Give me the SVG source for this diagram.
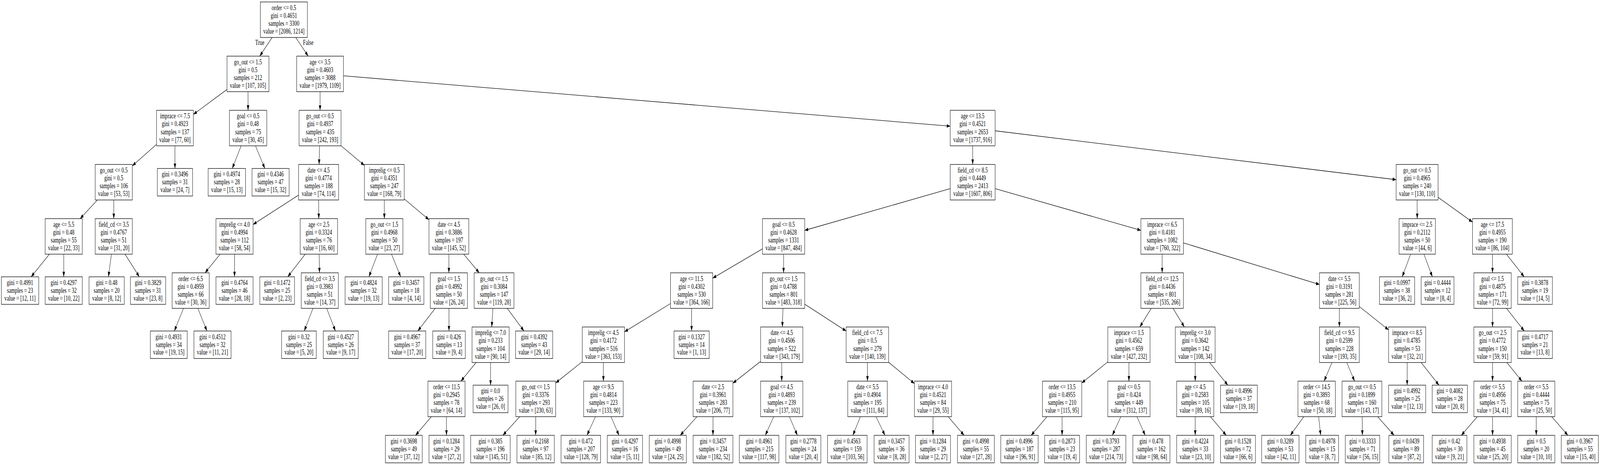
<svg xmlns="http://www.w3.org/2000/svg" width="5949" height="1191" viewBox="0 0 5949 1191" preserveAspectRatio="none">
<style>
:root{width:100vw;height:100vh}
.n rect{fill:#fff;stroke:#000;stroke-width:1.3}
text{font-family:"Liberation Serif","Times New Roman",serif;font-size:18.25px;text-anchor:middle;fill:#000}
.c line{stroke:#000;stroke-width:1.3;marker-end:url(#ah)}
</style>
<defs>
<marker id="ah" markerUnits="userSpaceOnUse" markerWidth="14" markerHeight="10" refX="13" refY="4.6" orient="auto"><path d="M0,0 L13,4.6 L0,9.2 z" fill="#000"/></marker>
</defs>
<rect width="5949" height="1191" fill="#fff"/>
<g id="connectors" class="c">
<line x1="1011.7" y1="96" x2="965.8" y2="143.75"/>
<line x1="1099.6" y1="96" x2="1145.9" y2="143.75"/>
<line x1="844" y1="229.1" x2="719" y2="293"/>
<line x1="922.2" y1="234.75" x2="922.3" y2="282.5"/>
<line x1="1190" y1="234.75" x2="1190" y2="282.5"/>
<line x1="1277" y1="194.2" x2="3533" y2="323.2"/>
<line x1="582" y1="369.8" x2="492" y2="424.7"/>
<line x1="650.5" y1="373.5" x2="650.5" y2="431.5"/>
<line x1="896.6" y1="373.5" x2="863.6" y2="431.5"/>
<line x1="949.9" y1="373.5" x2="984.8" y2="431.5"/>
<line x1="1188.2" y1="373.5" x2="1186.3" y2="421.25"/>
<line x1="1268" y1="373.3" x2="1355" y2="423.8"/>
<line x1="3616.5" y1="373.5" x2="3616.5" y2="421.25"/>
<line x1="3700" y1="335" x2="5191" y2="460.2"/>
<line x1="362" y1="512.25" x2="298" y2="560"/>
<line x1="423" y1="512.25" x2="423" y2="560"/>
<line x1="1110" y1="499.8" x2="941" y2="574.9"/>
<line x1="1184.8" y1="512.25" x2="1185.2" y2="560"/>
<line x1="1429" y1="512.25" x2="1429" y2="560"/>
<line x1="1503" y1="509.5" x2="1595" y2="562.7"/>
<line x1="3533" y1="483.2" x2="2992" y2="590"/>
<line x1="3700" y1="483.2" x2="4242" y2="589.9"/>
<line x1="5269" y1="512.25" x2="5269.5" y2="560"/>
<line x1="5347" y1="505.4" x2="5475" y2="568.8"/>
<line x1="183.7" y1="651" x2="115.8" y2="709"/>
<line x1="237" y1="651" x2="237" y2="709"/>
<line x1="414.3" y1="651" x2="403.2" y2="709"/>
<line x1="464.8" y1="651" x2="518.1" y2="709"/>
<line x1="818.5" y1="651" x2="762.5" y2="698.75"/>
<line x1="872" y1="651" x2="872" y2="709"/>
<line x1="1134.7" y1="651" x2="1069.9" y2="709"/>
<line x1="1186.6" y1="651" x2="1187.9" y2="698.75"/>
<line x1="1403.7" y1="651" x2="1371.6" y2="709"/>
<line x1="1455.7" y1="651" x2="1489.8" y2="709"/>
<line x1="1669" y1="651" x2="1669" y2="698.75"/>
<line x1="1724.1" y1="651" x2="1781.9" y2="698.75"/>
<line x1="2835" y1="637.3" x2="2650" y2="712.4"/>
<line x1="2913.5" y1="651" x2="2913.5" y2="698.75"/>
<line x1="4321" y1="651" x2="4321" y2="698.75"/>
<line x1="4400" y1="622.1" x2="4906" y2="728.7"/>
<line x1="5244.9" y1="651" x2="5213.6" y2="709"/>
<line x1="5294.3" y1="651" x2="5325.8" y2="709"/>
<line x1="5549.2" y1="651" x2="5549.4" y2="698.75"/>
<line x1="5601" y1="651" x2="5667.2" y2="709"/>
<line x1="682.3" y1="789.75" x2="648.2" y2="847.75"/>
<line x1="735.6" y1="789.75" x2="769.4" y2="847.75"/>
<line x1="1163.6" y1="789.75" x2="1131.2" y2="847.75"/>
<line x1="1214.6" y1="789.75" x2="1247.2" y2="847.75"/>
<line x1="1618.2" y1="789.75" x2="1553.4" y2="847.75"/>
<line x1="1669.2" y1="789.75" x2="1669.4" y2="847.75"/>
<line x1="1832.7" y1="789.75" x2="1828.3" y2="837.5"/>
<line x1="1885.9" y1="789.75" x2="1948.1" y2="847.75"/>
<line x1="2493" y1="777.5" x2="2322" y2="849.8"/>
<line x1="2571.5" y1="789.75" x2="2571.5" y2="847.75"/>
<line x1="2911.2" y1="789.75" x2="2908.8" y2="837.5"/>
<line x1="2992" y1="779.2" x2="3146" y2="847.8"/>
<line x1="4280.5" y1="789.75" x2="4238" y2="837.5"/>
<line x1="4361.3" y1="789.75" x2="4403.7" y2="837.5"/>
<line x1="4980" y1="789.75" x2="4980" y2="837.5"/>
<line x1="5054" y1="785" x2="5163" y2="845"/>
<line x1="5549.5" y1="789.75" x2="5549.5" y2="837.5"/>
<line x1="5601.3" y1="789.75" x2="5667.4" y2="847.75"/>
<line x1="1770.2" y1="928.5" x2="1713.8" y2="976.25"/>
<line x1="1824" y1="928.5" x2="1824" y2="986.5"/>
<line x1="2165" y1="926.3" x2="2066" y2="980.9"/>
<line x1="2243.5" y1="928.5" x2="2243.5" y2="976.25"/>
<line x1="2828" y1="925.6" x2="2725" y2="981.6"/>
<line x1="2906.5" y1="928.5" x2="2906.5" y2="976.25"/>
<line x1="3225.2" y1="928.5" x2="3225.3" y2="976.25"/>
<line x1="3304" y1="927.9" x2="3400" y2="982.5"/>
<line x1="4119" y1="926.8" x2="4022" y2="981"/>
<line x1="4197.5" y1="928.5" x2="4197.5" y2="976.25"/>
<line x1="4444" y1="928.5" x2="4444" y2="976.25"/>
<line x1="4497.3" y1="928.5" x2="4565.2" y2="986.5"/>
<line x1="4952.3" y1="928.5" x2="4923.2" y2="976.25"/>
<line x1="5007.5" y1="928.5" x2="5036.5" y2="976.25"/>
<line x1="5232" y1="928.5" x2="5232" y2="986.5"/>
<line x1="5284" y1="928.5" x2="5350.2" y2="986.5"/>
<line x1="5549.5" y1="928.5" x2="5549.5" y2="976.25"/>
<line x1="5602.8" y1="928.5" x2="5658.7" y2="976.25"/>
<line x1="1603.9" y1="1067.25" x2="1545" y2="1115"/>
<line x1="1660" y1="1067.25" x2="1660" y2="1115"/>
<line x1="1932.3" y1="1067.25" x2="1869.7" y2="1115"/>
<line x1="1992" y1="1067.25" x2="1991.6" y2="1115"/>
<line x1="2213.8" y1="1067.25" x2="2182.5" y2="1115"/>
<line x1="2271.8" y1="1067.25" x2="2301.6" y2="1115"/>
<line x1="2591.5" y1="1067.25" x2="2529.1" y2="1115"/>
<line x1="2651" y1="1067.25" x2="2651" y2="1115"/>
<line x1="2876.8" y1="1067.25" x2="2845.5" y2="1115"/>
<line x1="2935" y1="1067.25" x2="2964.9" y2="1115"/>
<line x1="3199" y1="1067.25" x2="3171.1" y2="1115"/>
<line x1="3257.2" y1="1067.25" x2="3290.4" y2="1115"/>
<line x1="3469" y1="1067.25" x2="3469" y2="1115"/>
<line x1="3525.5" y1="1067.25" x2="3584.7" y2="1115"/>
<line x1="3892.9" y1="1067.25" x2="3834" y2="1115"/>
<line x1="3949" y1="1067.25" x2="3949" y2="1115"/>
<line x1="4167.4" y1="1067.25" x2="4135.8" y2="1115"/>
<line x1="4227.1" y1="1067.25" x2="4258.1" y2="1115"/>
<line x1="4444" y1="1067.25" x2="4444" y2="1115"/>
<line x1="4500.3" y1="1067.25" x2="4559.4" y2="1115"/>
<line x1="4847.7" y1="1067.25" x2="4797.5" y2="1115"/>
<line x1="4902.8" y1="1067.25" x2="4910.4" y2="1115"/>
<line x1="5064.7" y1="1067.25" x2="5065.5" y2="1115"/>
<line x1="5122.2" y1="1067.25" x2="5183.4" y2="1115"/>
<line x1="5492.8" y1="1067.25" x2="5433.4" y2="1115"/>
<line x1="5549.5" y1="1067.25" x2="5549.5" y2="1115"/>
<line x1="5712" y1="1067.25" x2="5712" y2="1115"/>
<line x1="5769.4" y1="1067.25" x2="5829.6" y2="1115"/>
<text x="966" y="115.3">True</text>
<text x="1146" y="115.3">False</text>
</g>
<g id="nodes">
<g id="n0" class="n" transform="translate(1055.5 50.5)"><rect x="-87.5" y="-45.5" width="175" height="91"/><text y="-24.7">order &lt;= 0.5</text><text y="-4.6">gini = 0.4651</text><text y="15.6">samples = 3300</text><text y="35.7">value = [2086, 1214]</text></g>
<g id="n1" class="n" transform="translate(922 189.25)"><rect x="-78" y="-45.5" width="156" height="91"/><text y="-24.7">go_out &lt;= 1.5</text><text y="-4.6">gini = 0.5</text><text y="15.6">samples = 212</text><text y="35.7">value = [107, 105]</text></g>
<g id="n2" class="n" transform="translate(1190 189.25)"><rect x="-87" y="-45.5" width="174" height="91"/><text y="-24.7">age &lt;= 3.5</text><text y="-4.6">gini = 0.4603</text><text y="15.6">samples = 3088</text><text y="35.7">value = [1979, 1109]</text></g>
<g id="n3" class="n" transform="translate(650.5 328)"><rect x="-68.5" y="-45.5" width="137" height="91"/><text y="-24.7">imprace &lt;= 7.5</text><text y="-4.6">gini = 0.4923</text><text y="15.6">samples = 137</text><text y="35.7">value = [77, 60]</text></g>
<g id="n4" class="n" transform="translate(922.5 328)"><rect x="-69.5" y="-45.5" width="139" height="91"/><text y="-24.7">goal &lt;= 0.5</text><text y="-4.6">gini = 0.48</text><text y="15.6">samples = 75</text><text y="35.7">value = [30, 45]</text></g>
<g id="n5" class="n" transform="translate(1190 328)"><rect x="-78" y="-45.5" width="156" height="91"/><text y="-24.7">go_out &lt;= 0.5</text><text y="-4.6">gini = 0.4937</text><text y="15.6">samples = 435</text><text y="35.7">value = [242, 193]</text></g>
<g id="n6" class="n" transform="translate(3616.5 328)"><rect x="-83.5" y="-45.5" width="167" height="91"/><text y="-24.7">age &lt;= 13.5</text><text y="-4.6">gini = 0.4521</text><text y="15.6">samples = 2653</text><text y="35.7">value = [1737, 916]</text></g>
<g id="n7" class="n" transform="translate(423 466.75)"><rect x="-69" y="-45.5" width="138" height="91"/><text y="-24.7">go_out &lt;= 0.5</text><text y="-4.6">gini = 0.5</text><text y="15.6">samples = 106</text><text y="35.7">value = [53, 53]</text></g>
<g id="n8" class="n" transform="translate(650.5 466.75)"><rect x="-65.5" y="-35.25" width="131" height="70.5"/><text y="-14.5">gini = 0.3496</text><text y="5.5">samples = 31</text><text y="25.5">value = [24, 7]</text></g>
<g id="n9" class="n" transform="translate(843.5 466.75)"><rect x="-69.5" y="-35.25" width="139" height="70.5"/><text y="-14.5">gini = 0.4974</text><text y="5.5">samples = 28</text><text y="25.5">value = [15, 13]</text></g>
<g id="n10" class="n" transform="translate(1006 466.75)"><rect x="-69" y="-35.25" width="138" height="70.5"/><text y="-14.5">gini = 0.4346</text><text y="5.5">samples = 47</text><text y="25.5">value = [15, 32]</text></g>
<g id="n11" class="n" transform="translate(1184.5 466.75)"><rect x="-74.5" y="-45.5" width="149" height="91"/><text y="-24.7">date &lt;= 4.5</text><text y="-4.6">gini = 0.4774</text><text y="15.6">samples = 188</text><text y="35.7">value = [74, 114]</text></g>
<g id="n12" class="n" transform="translate(1429 466.75)"><rect x="-74" y="-45.5" width="148" height="91"/><text y="-24.7">imprelig &lt;= 0.5</text><text y="-4.6">gini = 0.4351</text><text y="15.6">samples = 247</text><text y="35.7">value = [168, 79]</text></g>
<g id="n13" class="n" transform="translate(3616.5 466.75)"><rect x="-83.5" y="-45.5" width="167" height="91"/><text y="-24.7">field_cd &lt;= 8.5</text><text y="-4.6">gini = 0.4449</text><text y="15.6">samples = 2413</text><text y="35.7">value = [1607, 806]</text></g>
<g id="n14" class="n" transform="translate(5269 466.75)"><rect x="-78" y="-45.5" width="156" height="91"/><text y="-24.7">go_out &lt;= 0.5</text><text y="-4.6">gini = 0.4965</text><text y="15.6">samples = 240</text><text y="35.7">value = [130, 110]</text></g>
<g id="n15" class="n" transform="translate(237 605.5)"><rect x="-69" y="-45.5" width="138" height="91"/><text y="-24.7">age &lt;= 5.5</text><text y="-4.6">gini = 0.48</text><text y="15.6">samples = 55</text><text y="35.7">value = [22, 33]</text></g>
<g id="n16" class="n" transform="translate(423 605.5)"><rect x="-69" y="-45.5" width="138" height="91"/><text y="-24.7">field_cd &lt;= 3.5</text><text y="-4.6">gini = 0.4767</text><text y="15.6">samples = 51</text><text y="35.7">value = [31, 20]</text></g>
<g id="n17" class="n" transform="translate(872 605.5)"><rect x="-69" y="-45.5" width="138" height="91"/><text y="-24.7">imprelig &lt;= 4.0</text><text y="-4.6">gini = 0.4994</text><text y="15.6">samples = 112</text><text y="35.7">value = [58, 54]</text></g>
<g id="n18" class="n" transform="translate(1185.5 605.5)"><rect x="-69.5" y="-45.5" width="139" height="91"/><text y="-24.7">age &lt;= 2.5</text><text y="-4.6">gini = 0.3324</text><text y="15.6">samples = 76</text><text y="35.7">value = [16, 60]</text></g>
<g id="n19" class="n" transform="translate(1429 605.5)"><rect x="-69" y="-45.5" width="138" height="91"/><text y="-24.7">go_out &lt;= 1.5</text><text y="-4.6">gini = 0.4968</text><text y="15.6">samples = 50</text><text y="35.7">value = [23, 27]</text></g>
<g id="n20" class="n" transform="translate(1669 605.5)"><rect x="-74" y="-45.5" width="148" height="91"/><text y="-24.7">date &lt;= 4.5</text><text y="-4.6">gini = 0.3886</text><text y="15.6">samples = 197</text><text y="35.7">value = [145, 52]</text></g>
<g id="n21" class="n" transform="translate(2913.5 605.5)"><rect x="-78.5" y="-45.5" width="157" height="91"/><text y="-24.7">goal &lt;= 0.5</text><text y="-4.6">gini = 0.4628</text><text y="15.6">samples = 1331</text><text y="35.7">value = [847, 484]</text></g>
<g id="n22" class="n" transform="translate(4321 605.5)"><rect x="-79" y="-45.5" width="158" height="91"/><text y="-24.7">imprace &lt;= 6.5</text><text y="-4.6">gini = 0.4181</text><text y="15.6">samples = 1082</text><text y="35.7">value = [760, 322]</text></g>
<g id="n23" class="n" transform="translate(5269.5 605.5)"><rect x="-67.5" y="-45.5" width="135" height="91"/><text y="-24.7">imprace &lt;= 2.5</text><text y="-4.6">gini = 0.2112</text><text y="15.6">samples = 50</text><text y="35.7">value = [44, 6]</text></g>
<g id="n24" class="n" transform="translate(5549 605.5)"><rect x="-74" y="-45.5" width="148" height="91"/><text y="-24.7">age &lt;= 17.5</text><text y="-4.6">gini = 0.4955</text><text y="15.6">samples = 190</text><text y="35.7">value = [86, 104]</text></g>
<g id="n25" class="n" transform="translate(74.5 744.25)"><rect x="-69.5" y="-35.25" width="139" height="70.5"/><text y="-14.5">gini = 0.4991</text><text y="5.5">samples = 23</text><text y="25.5">value = [12, 11]</text></g>
<g id="n26" class="n" transform="translate(237 744.25)"><rect x="-69" y="-35.25" width="138" height="70.5"/><text y="-14.5">gini = 0.4297</text><text y="5.5">samples = 32</text><text y="25.5">value = [10, 22]</text></g>
<g id="n27" class="n" transform="translate(396.5 744.25)"><rect x="-65.5" y="-35.25" width="131" height="70.5"/><text y="-14.5">gini = 0.48</text><text y="5.5">samples = 20</text><text y="25.5">value = [8, 12]</text></g>
<g id="n28" class="n" transform="translate(550.5 744.25)"><rect x="-65.5" y="-35.25" width="131" height="70.5"/><text y="-14.5">gini = 0.3829</text><text y="5.5">samples = 31</text><text y="25.5">value = [23, 8]</text></g>
<g id="n29" class="n" transform="translate(709 744.25)"><rect x="-69" y="-45.5" width="138" height="91"/><text y="-24.7">order &lt;= 6.5</text><text y="-4.6">gini = 0.4959</text><text y="15.6">samples = 66</text><text y="35.7">value = [30, 36]</text></g>
<g id="n30" class="n" transform="translate(872 744.25)"><rect x="-69" y="-35.25" width="138" height="70.5"/><text y="-14.5">gini = 0.4764</text><text y="5.5">samples = 46</text><text y="25.5">value = [28, 18]</text></g>
<g id="n31" class="n" transform="translate(1030.5 744.25)"><rect x="-64.5" y="-35.25" width="129" height="70.5"/><text y="-14.5">gini = 0.1472</text><text y="5.5">samples = 25</text><text y="25.5">value = [2, 23]</text></g>
<g id="n32" class="n" transform="translate(1189 744.25)"><rect x="-69" y="-45.5" width="138" height="91"/><text y="-24.7">field_cd &lt;= 3.5</text><text y="-4.6">gini = 0.3983</text><text y="15.6">samples = 51</text><text y="35.7">value = [14, 37]</text></g>
<g id="n33" class="n" transform="translate(1352 744.25)"><rect x="-69" y="-35.25" width="138" height="70.5"/><text y="-14.5">gini = 0.4824</text><text y="5.5">samples = 32</text><text y="25.5">value = [19, 13]</text></g>
<g id="n34" class="n" transform="translate(1510.5 744.25)"><rect x="-65.5" y="-35.25" width="131" height="70.5"/><text y="-14.5">gini = 0.3457</text><text y="5.5">samples = 18</text><text y="25.5">value = [4, 14]</text></g>
<g id="n35" class="n" transform="translate(1669 744.25)"><rect x="-69" y="-45.5" width="138" height="91"/><text y="-24.7">goal &lt;= 1.5</text><text y="-4.6">gini = 0.4992</text><text y="15.6">samples = 50</text><text y="35.7">value = [26, 24]</text></g>
<g id="n36" class="n" transform="translate(1837 744.25)"><rect x="-74" y="-45.5" width="148" height="91"/><text y="-24.7">go_out &lt;= 1.5</text><text y="-4.6">gini = 0.3084</text><text y="15.6">samples = 147</text><text y="35.7">value = [119, 28]</text></g>
<g id="n37" class="n" transform="translate(2571.5 744.25)"><rect x="-78.5" y="-45.5" width="157" height="91"/><text y="-24.7">age &lt;= 11.5</text><text y="-4.6">gini = 0.4302</text><text y="15.6">samples = 530</text><text y="35.7">value = [364, 166]</text></g>
<g id="n38" class="n" transform="translate(2913.5 744.25)"><rect x="-78.5" y="-45.5" width="157" height="91"/><text y="-24.7">go_out &lt;= 1.5</text><text y="-4.6">gini = 0.4788</text><text y="15.6">samples = 801</text><text y="35.7">value = [483, 318]</text></g>
<g id="n39" class="n" transform="translate(4321 744.25)"><rect x="-79" y="-45.5" width="158" height="91"/><text y="-24.7">field_cd &lt;= 12.5</text><text y="-4.6">gini = 0.4436</text><text y="15.6">samples = 801</text><text y="35.7">value = [535, 266]</text></g>
<g id="n40" class="n" transform="translate(4980 744.25)"><rect x="-74" y="-45.5" width="148" height="91"/><text y="-24.7">date &lt;= 5.5</text><text y="-4.6">gini = 0.3191</text><text y="15.6">samples = 281</text><text y="35.7">value = [225, 56]</text></g>
<g id="n41" class="n" transform="translate(5194.5 744.25)"><rect x="-65.5" y="-35.25" width="131" height="70.5"/><text y="-14.5">gini = 0.0997</text><text y="5.5">samples = 38</text><text y="25.5">value = [36, 2]</text></g>
<g id="n42" class="n" transform="translate(5345 744.25)"><rect x="-61" y="-35.25" width="122" height="70.5"/><text y="-14.5">gini = 0.4444</text><text y="5.5">samples = 12</text><text y="25.5">value = [8, 4]</text></g>
<g id="n43" class="n" transform="translate(5549.5 744.25)"><rect x="-69.5" y="-45.5" width="139" height="91"/><text y="-24.7">goal &lt;= 1.5</text><text y="-4.6">gini = 0.4875</text><text y="15.6">samples = 171</text><text y="35.7">value = [72, 99]</text></g>
<g id="n44" class="n" transform="translate(5707.5 744.25)"><rect x="-64.5" y="-35.25" width="129" height="70.5"/><text y="-14.5">gini = 0.3878</text><text y="5.5">samples = 19</text><text y="25.5">value = [14, 5]</text></g>
<g id="n45" class="n" transform="translate(627.5 883)"><rect x="-68.5" y="-35.25" width="137" height="70.5"/><text y="-14.5">gini = 0.4931</text><text y="5.5">samples = 34</text><text y="25.5">value = [19, 15]</text></g>
<g id="n46" class="n" transform="translate(790 883)"><rect x="-69" y="-35.25" width="138" height="70.5"/><text y="-14.5">gini = 0.4512</text><text y="5.5">samples = 32</text><text y="25.5">value = [11, 21]</text></g>
<g id="n47" class="n" transform="translate(1111.5 883)"><rect x="-64.5" y="-35.25" width="129" height="70.5"/><text y="-14.5">gini = 0.32</text><text y="5.5">samples = 25</text><text y="25.5">value = [5, 20]</text></g>
<g id="n48" class="n" transform="translate(1267 883)"><rect x="-65" y="-35.25" width="130" height="70.5"/><text y="-14.5">gini = 0.4527</text><text y="5.5">samples = 26</text><text y="25.5">value = [9, 17]</text></g>
<g id="n49" class="n" transform="translate(1514 883)"><rect x="-69" y="-35.25" width="138" height="70.5"/><text y="-14.5">gini = 0.4967</text><text y="5.5">samples = 37</text><text y="25.5">value = [17, 20]</text></g>
<g id="n50" class="n" transform="translate(1669.5 883)"><rect x="-60.5" y="-35.25" width="121" height="70.5"/><text y="-14.5">gini = 0.426</text><text y="5.5">samples = 13</text><text y="25.5">value = [9, 4]</text></g>
<g id="n51" class="n" transform="translate(1824 883)"><rect x="-69" y="-45.5" width="138" height="91"/><text y="-24.7">imprelig &lt;= 7.0</text><text y="-4.6">gini = 0.233</text><text y="15.6">samples = 104</text><text y="35.7">value = [90, 14]</text></g>
<g id="n52" class="n" transform="translate(1986 883)"><rect x="-69" y="-35.25" width="138" height="70.5"/><text y="-14.5">gini = 0.4392</text><text y="5.5">samples = 43</text><text y="25.5">value = [29, 14]</text></g>
<g id="n53" class="n" transform="translate(2243.5 883)"><rect x="-78.5" y="-45.5" width="157" height="91"/><text y="-24.7">imprelig &lt;= 4.5</text><text y="-4.6">gini = 0.4172</text><text y="15.6">samples = 516</text><text y="35.7">value = [363, 153]</text></g>
<g id="n54" class="n" transform="translate(2571.5 883)"><rect x="-65.5" y="-35.25" width="131" height="70.5"/><text y="-14.5">gini = 0.1327</text><text y="5.5">samples = 14</text><text y="25.5">value = [1, 13]</text></g>
<g id="n55" class="n" transform="translate(2906.5 883)"><rect x="-78.5" y="-45.5" width="157" height="91"/><text y="-24.7">date &lt;= 4.5</text><text y="-4.6">gini = 0.4506</text><text y="15.6">samples = 522</text><text y="35.7">value = [343, 179]</text></g>
<g id="n56" class="n" transform="translate(3225 883)"><rect x="-79" y="-45.5" width="158" height="91"/><text y="-24.7">field_cd &lt;= 7.5</text><text y="-4.6">gini = 0.5</text><text y="15.6">samples = 279</text><text y="35.7">value = [140, 139]</text></g>
<g id="n57" class="n" transform="translate(4197.5 883)"><rect x="-78.5" y="-45.5" width="157" height="91"/><text y="-24.7">imprace &lt;= 1.5</text><text y="-4.6">gini = 0.4562</text><text y="15.6">samples = 659</text><text y="35.7">value = [427, 232]</text></g>
<g id="n58" class="n" transform="translate(4444 883)"><rect x="-74" y="-45.5" width="148" height="91"/><text y="-24.7">imprelig &lt;= 3.0</text><text y="-4.6">gini = 0.3642</text><text y="15.6">samples = 142</text><text y="35.7">value = [108, 34]</text></g>
<g id="n59" class="n" transform="translate(4980 883)"><rect x="-74" y="-45.5" width="148" height="91"/><text y="-24.7">field_cd &lt;= 9.5</text><text y="-4.6">gini = 0.2599</text><text y="15.6">samples = 228</text><text y="35.7">value = [193, 35]</text></g>
<g id="n60" class="n" transform="translate(5232 883)"><rect x="-69" y="-45.5" width="138" height="91"/><text y="-24.7">imprace &lt;= 8.5</text><text y="-4.6">gini = 0.4785</text><text y="15.6">samples = 53</text><text y="35.7">value = [32, 21]</text></g>
<g id="n61" class="n" transform="translate(5549.5 883)"><rect x="-69.5" y="-45.5" width="139" height="91"/><text y="-24.7">go_out &lt;= 2.5</text><text y="-4.6">gini = 0.4772</text><text y="15.6">samples = 150</text><text y="35.7">value = [59, 91]</text></g>
<g id="n62" class="n" transform="translate(5707.5 883)"><rect x="-64.5" y="-35.25" width="129" height="70.5"/><text y="-14.5">gini = 0.4717</text><text y="5.5">samples = 21</text><text y="25.5">value = [13, 8]</text></g>
<g id="n63" class="n" transform="translate(1660 1021.75)"><rect x="-69" y="-45.5" width="138" height="91"/><text y="-24.7">order &lt;= 11.5</text><text y="-4.6">gini = 0.2945</text><text y="15.6">samples = 78</text><text y="35.7">value = [64, 14]</text></g>
<g id="n64" class="n" transform="translate(1824 1021.75)"><rect x="-65" y="-35.25" width="130" height="70.5"/><text y="-14.5">gini = 0.0</text><text y="5.5">samples = 26</text><text y="25.5">value = [26, 0]</text></g>
<g id="n65" class="n" transform="translate(1992 1021.75)"><rect x="-74" y="-45.5" width="148" height="91"/><text y="-24.7">go_out &lt;= 1.5</text><text y="-4.6">gini = 0.3376</text><text y="15.6">samples = 293</text><text y="35.7">value = [230, 63]</text></g>
<g id="n66" class="n" transform="translate(2243.5 1021.75)"><rect x="-73.5" y="-45.5" width="147" height="91"/><text y="-24.7">age &lt;= 9.5</text><text y="-4.6">gini = 0.4814</text><text y="15.6">samples = 223</text><text y="35.7">value = [133, 90]</text></g>
<g id="n67" class="n" transform="translate(2651 1021.75)"><rect x="-74" y="-45.5" width="148" height="91"/><text y="-24.7">date &lt;= 2.5</text><text y="-4.6">gini = 0.3961</text><text y="15.6">samples = 283</text><text y="35.7">value = [206, 77]</text></g>
<g id="n68" class="n" transform="translate(2906.5 1021.75)"><rect x="-78.5" y="-45.5" width="157" height="91"/><text y="-24.7">goal &lt;= 4.5</text><text y="-4.6">gini = 0.4893</text><text y="15.6">samples = 239</text><text y="35.7">value = [137, 102]</text></g>
<g id="n69" class="n" transform="translate(3225.5 1021.75)"><rect x="-73.5" y="-45.5" width="147" height="91"/><text y="-24.7">date &lt;= 5.5</text><text y="-4.6">gini = 0.4904</text><text y="15.6">samples = 195</text><text y="35.7">value = [111, 84]</text></g>
<g id="n70" class="n" transform="translate(3469 1021.75)"><rect x="-69" y="-45.5" width="138" height="91"/><text y="-24.7">imprace &lt;= 4.0</text><text y="-4.6">gini = 0.4521</text><text y="15.6">samples = 84</text><text y="35.7">value = [29, 55]</text></g>
<g id="n71" class="n" transform="translate(3949 1021.75)"><rect x="-73" y="-45.5" width="146" height="91"/><text y="-24.7">order &lt;= 13.5</text><text y="-4.6">gini = 0.4955</text><text y="15.6">samples = 210</text><text y="35.7">value = [115, 95]</text></g>
<g id="n72" class="n" transform="translate(4197.5 1021.75)"><rect x="-78.5" y="-45.5" width="157" height="91"/><text y="-24.7">goal &lt;= 0.5</text><text y="-4.6">gini = 0.424</text><text y="15.6">samples = 449</text><text y="35.7">value = [312, 137]</text></g>
<g id="n73" class="n" transform="translate(4444 1021.75)"><rect x="-69" y="-45.5" width="138" height="91"/><text y="-24.7">age &lt;= 4.5</text><text y="-4.6">gini = 0.2583</text><text y="15.6">samples = 105</text><text y="35.7">value = [89, 16]</text></g>
<g id="n74" class="n" transform="translate(4606.5 1021.75)"><rect x="-68.5" y="-35.25" width="137" height="70.5"/><text y="-14.5">gini = 0.4996</text><text y="5.5">samples = 37</text><text y="25.5">value = [19, 18]</text></g>
<g id="n75" class="n" transform="translate(4895.5 1021.75)"><rect x="-69.5" y="-45.5" width="139" height="91"/><text y="-24.7">order &lt;= 14.5</text><text y="-4.6">gini = 0.3893</text><text y="15.6">samples = 68</text><text y="35.7">value = [50, 18]</text></g>
<g id="n76" class="n" transform="translate(5064 1021.75)"><rect x="-74" y="-45.5" width="148" height="91"/><text y="-24.7">go_out &lt;= 0.5</text><text y="-4.6">gini = 0.1899</text><text y="15.6">samples = 160</text><text y="35.7">value = [143, 17]</text></g>
<g id="n77" class="n" transform="translate(5232 1021.75)"><rect x="-69" y="-35.25" width="138" height="70.5"/><text y="-14.5">gini = 0.4992</text><text y="5.5">samples = 25</text><text y="25.5">value = [12, 13]</text></g>
<g id="n78" class="n" transform="translate(5390.5 1021.75)"><rect x="-65.5" y="-35.25" width="131" height="70.5"/><text y="-14.5">gini = 0.4082</text><text y="5.5">samples = 28</text><text y="25.5">value = [20, 8]</text></g>
<g id="n79" class="n" transform="translate(5549.5 1021.75)"><rect x="-69.5" y="-45.5" width="139" height="91"/><text y="-24.7">order &lt;= 5.5</text><text y="-4.6">gini = 0.4956</text><text y="15.6">samples = 75</text><text y="35.7">value = [34, 41]</text></g>
<g id="n80" class="n" transform="translate(5712 1021.75)"><rect x="-69" y="-45.5" width="138" height="91"/><text y="-24.7">order &lt;= 5.5</text><text y="-4.6">gini = 0.4444</text><text y="15.6">samples = 75</text><text y="35.7">value = [25, 50]</text></g>
<g id="n81" class="n" transform="translate(1501.5 1150.25)"><rect x="-68.5" y="-35.25" width="137" height="70.5"/><text y="-14.5">gini = 0.3698</text><text y="5.5">samples = 49</text><text y="25.5">value = [37, 12]</text></g>
<g id="n82" class="n" transform="translate(1660 1150.25)"><rect x="-65" y="-35.25" width="130" height="70.5"/><text y="-14.5">gini = 0.1284</text><text y="5.5">samples = 29</text><text y="25.5">value = [27, 2]</text></g>
<g id="n83" class="n" transform="translate(1823.5 1150.25)"><rect x="-73.5" y="-35.25" width="147" height="70.5"/><text y="-14.5">gini = 0.385</text><text y="5.5">samples = 196</text><text y="25.5">value = [145, 51]</text></g>
<g id="n84" class="n" transform="translate(1991.5 1150.25)"><rect x="-69.5" y="-35.25" width="139" height="70.5"/><text y="-14.5">gini = 0.2168</text><text y="5.5">samples = 97</text><text y="25.5">value = [85, 12]</text></g>
<g id="n85" class="n" transform="translate(2159.5 1150.25)"><rect x="-73.5" y="-35.25" width="147" height="70.5"/><text y="-14.5">gini = 0.472</text><text y="5.5">samples = 207</text><text y="25.5">value = [128, 79]</text></g>
<g id="n86" class="n" transform="translate(2323.5 1150.25)"><rect x="-65.5" y="-35.25" width="131" height="70.5"/><text y="-14.5">gini = 0.4297</text><text y="5.5">samples = 16</text><text y="25.5">value = [5, 11]</text></g>
<g id="n87" class="n" transform="translate(2483 1150.25)"><rect x="-69" y="-35.25" width="138" height="70.5"/><text y="-14.5">gini = 0.4998</text><text y="5.5">samples = 49</text><text y="25.5">value = [24, 25]</text></g>
<g id="n88" class="n" transform="translate(2651 1150.25)"><rect x="-74" y="-35.25" width="148" height="70.5"/><text y="-14.5">gini = 0.3457</text><text y="5.5">samples = 234</text><text y="25.5">value = [182, 52]</text></g>
<g id="n89" class="n" transform="translate(2822.5 1150.25)"><rect x="-73.5" y="-35.25" width="147" height="70.5"/><text y="-14.5">gini = 0.4961</text><text y="5.5">samples = 215</text><text y="25.5">value = [117, 98]</text></g>
<g id="n90" class="n" transform="translate(2987 1150.25)"><rect x="-65" y="-35.25" width="130" height="70.5"/><text y="-14.5">gini = 0.2778</text><text y="5.5">samples = 24</text><text y="25.5">value = [20, 4]</text></g>
<g id="n91" class="n" transform="translate(3150.5 1150.25)"><rect x="-73.5" y="-35.25" width="147" height="70.5"/><text y="-14.5">gini = 0.4563</text><text y="5.5">samples = 159</text><text y="25.5">value = [103, 56]</text></g>
<g id="n92" class="n" transform="translate(3315 1150.25)"><rect x="-65" y="-35.25" width="130" height="70.5"/><text y="-14.5">gini = 0.3457</text><text y="5.5">samples = 36</text><text y="25.5">value = [8, 28]</text></g>
<g id="n93" class="n" transform="translate(3469 1150.25)"><rect x="-65" y="-35.25" width="130" height="70.5"/><text y="-14.5">gini = 0.1284</text><text y="5.5">samples = 29</text><text y="25.5">value = [2, 27]</text></g>
<g id="n94" class="n" transform="translate(3628.5 1150.25)"><rect x="-68.5" y="-35.25" width="137" height="70.5"/><text y="-14.5">gini = 0.4998</text><text y="5.5">samples = 55</text><text y="25.5">value = [27, 28]</text></g>
<g id="n95" class="n" transform="translate(3790.5 1150.25)"><rect x="-69.5" y="-35.25" width="139" height="70.5"/><text y="-14.5">gini = 0.4996</text><text y="5.5">samples = 187</text><text y="25.5">value = [96, 91]</text></g>
<g id="n96" class="n" transform="translate(3949 1150.25)"><rect x="-65" y="-35.25" width="130" height="70.5"/><text y="-14.5">gini = 0.2873</text><text y="5.5">samples = 23</text><text y="25.5">value = [19, 4]</text></g>
<g id="n97" class="n" transform="translate(4112.5 1150.25)"><rect x="-73.5" y="-35.25" width="147" height="70.5"/><text y="-14.5">gini = 0.3793</text><text y="5.5">samples = 287</text><text y="25.5">value = [214, 73]</text></g>
<g id="n98" class="n" transform="translate(4281 1150.25)"><rect x="-69" y="-35.25" width="138" height="70.5"/><text y="-14.5">gini = 0.478</text><text y="5.5">samples = 162</text><text y="25.5">value = [98, 64]</text></g>
<g id="n99" class="n" transform="translate(4444 1150.25)"><rect x="-69" y="-35.25" width="138" height="70.5"/><text y="-14.5">gini = 0.4224</text><text y="5.5">samples = 33</text><text y="25.5">value = [23, 10]</text></g>
<g id="n100" class="n" transform="translate(4603 1150.25)"><rect x="-65" y="-35.25" width="130" height="70.5"/><text y="-14.5">gini = 0.1528</text><text y="5.5">samples = 72</text><text y="25.5">value = [66, 6]</text></g>
<g id="n101" class="n" transform="translate(4760.5 1150.25)"><rect x="-69.5" y="-35.25" width="139" height="70.5"/><text y="-14.5">gini = 0.3289</text><text y="5.5">samples = 53</text><text y="25.5">value = [42, 11]</text></g>
<g id="n102" class="n" transform="translate(4916 1150.25)"><rect x="-61" y="-35.25" width="122" height="70.5"/><text y="-14.5">gini = 0.4978</text><text y="5.5">samples = 15</text><text y="25.5">value = [8, 7]</text></g>
<g id="n103" class="n" transform="translate(5066 1150.25)"><rect x="-64" y="-35.25" width="128" height="70.5"/><text y="-14.5">gini = 0.3333</text><text y="5.5">samples = 71</text><text y="25.5">value = [56, 15]</text></g>
<g id="n104" class="n" transform="translate(5228.5 1150.25)"><rect x="-64.5" y="-35.25" width="129" height="70.5"/><text y="-14.5">gini = 0.0439</text><text y="5.5">samples = 89</text><text y="25.5">value = [87, 2]</text></g>
<g id="n105" class="n" transform="translate(5389.5 1150.25)"><rect x="-64.5" y="-35.25" width="129" height="70.5"/><text y="-14.5">gini = 0.42</text><text y="5.5">samples = 30</text><text y="25.5">value = [9, 21]</text></g>
<g id="n106" class="n" transform="translate(5549.5 1150.25)"><rect x="-69.5" y="-35.25" width="139" height="70.5"/><text y="-14.5">gini = 0.4938</text><text y="5.5">samples = 45</text><text y="25.5">value = [25, 20]</text></g>
<g id="n107" class="n" transform="translate(5712 1150.25)"><rect x="-69" y="-35.25" width="138" height="70.5"/><text y="-14.5">gini = 0.5</text><text y="5.5">samples = 20</text><text y="25.5">value = [10, 10]</text></g>
<g id="n108" class="n" transform="translate(5874 1150.25)"><rect x="-69" y="-35.25" width="138" height="70.5"/><text y="-14.5">gini = 0.3967</text><text y="5.5">samples = 55</text><text y="25.5">value = [15, 40]</text></g>
</g>
</svg>
